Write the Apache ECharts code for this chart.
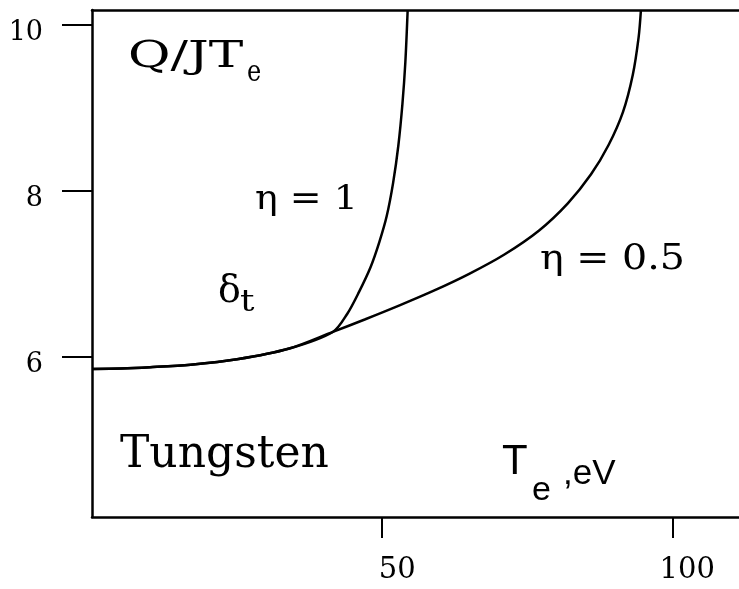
<!DOCTYPE html>
<html>
<head>
<meta charset="utf-8">
<style>
  html, body { margin: 0; padding: 0; background: #fff; }
  #chart { width: 739px; height: 589px; }
</style>
<script src="https://cdn.jsdelivr.net/npm/echarts@6/dist/echarts.min.js"></script>
</head>
<body>
<div id="chart"></div>
<script>
// Shared low-temperature branch of Q/JTe vs Te (tungsten), both eta values
const teCommon = [0, 5, 10, 17, 25, 34, 41.5];
const qCommon  = [5.855, 5.86, 5.875, 5.905, 5.97, 6.10, 6.30];

// eta = 0.5 branch above the split point
const teEta05 = [47, 53, 59, 65, 71, 77, 82, 86, 89, 91.5, 93.2, 94.2, 94.6];
const qEta05  = [6.45, 6.62, 6.80, 7.00, 7.23, 7.52, 7.85, 8.20, 8.55, 8.95, 9.40, 9.85, 10.18];

// eta = 1 branch above the split point
const teEta1 = [44, 46, 48, 49.5, 50.8, 51.9, 52.8, 53.5, 54.0, 54.4];
const qEta1  = [6.52, 6.78, 7.08, 7.38, 7.70, 8.10, 8.55, 9.05, 9.55, 10.18];

// Axis tick values
const xTicks = [50, 100];
const yTicks = [6, 8, 10];

function pairs(xs, ys) { return xs.map((x, i) => [x, ys[i]]); }

const lineEta05 = pairs(teCommon.concat(teEta05), qCommon.concat(qEta05));
const lineEta1  = pairs(teCommon.concat(teEta1), qCommon.concat(qEta1));

const SERIF = '"DejaVu Serif", "Liberation Serif", serif';
const SANS = '"Liberation Sans", Arial, sans-serif';

function label(x, y, text, family, size, sx) {
  return {
    type: 'text', x: x, y: y, scaleX: sx || 1, silent: true,
    style: { text: text, fontFamily: family, fontSize: size, fill: '#000',
             textAlign: 'left', textVerticalAlign: 'middle' }
  };
}

const chart = echarts.init(document.getElementById('chart'), null, { renderer: 'canvas' });
chart.setOption({
  animation: false,
  backgroundColor: '#fff',
  grid: { left: 92, right: 0, top: 10, bottom: 72 },
  xAxis: [{
    type: 'value', min: 0, max: 111.5, position: 'bottom',
    axisLine: { show: true, lineStyle: { color: '#000', width: 2.5 } },
    axisTick: { show: true, customValues: xTicks, length: 21, inside: false,
                lineStyle: { color: '#000', width: 2 } },
    axisLabel: { show: true, customValues: xTicks, margin: 39, color: '#000',
                 fontFamily: SERIF, fontSize: 29, padding: [0, 0, 0, 30] },
    splitLine: { show: false }
  }, {
    type: 'value', min: 0, max: 111.5, position: 'top',
    axisLine: { show: true, onZero: false, lineStyle: { color: '#000', width: 2.5 } },
    axisTick: { show: false }, axisLabel: { show: false }, splitLine: { show: false }
  }],
  yAxis: {
    type: 'value', min: 4.07, max: 10.18,
    axisLine: { show: true, onZero: false, lineStyle: { color: '#000', width: 2.5 } },
    axisTick: { show: true, customValues: yTicks, length: 30, inside: false,
                lineStyle: { color: '#000', width: 2 } },
    axisLabel: { show: true, customValues: yTicks, margin: 49, color: '#000',
                 fontFamily: SERIF, fontSize: 27, verticalAlign: 'top', lineHeight: 17 },
    splitLine: { show: false }
  },
  series: [{
    name: 'η = 0.5', type: 'line', data: lineEta05, smooth: 0.3,
    showSymbol: false, clip: true,
    lineStyle: { color: '#000', width: 2.5 }
  }, {
    name: 'η = 1', type: 'line', data: lineEta1, smooth: 0.3,
    showSymbol: false, clip: true,
    lineStyle: { color: '#000', width: 2.5 }
  }],
  graphic: [
    label(128, 57, 'Q/JT', SERIF, 37, 1.4),
    label(247, 73, 'e', SERIF, 30, 0.8),
    label(255, 200, 'η = 1', SERIF, 33, 1.15),
    label(218, 292, 'δ', SERIF, 38, 1),
    label(240, 303, 't', SERIF, 30, 1.2),
    label(540, 260, 'η = 0.5', SERIF, 36, 1.1),
    label(120, 456, 'Tungsten', SERIF, 44, 1),
    label(502, 462, 'T', SANS, 42, 1),
    label(532, 491, 'e', SANS, 34, 1),
    label(563, 474, ',eV', SANS, 35, 1)
  ]
});
</script>
</body>
</html>
